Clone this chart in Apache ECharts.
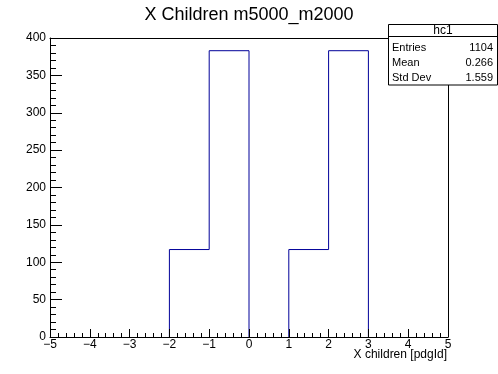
<!DOCTYPE html>
<html>
<head>
<meta charset="utf-8">
<script src="https://cdn.jsdelivr.net/npm/echarts@6/dist/echarts.min.js"></script>
<style>html,body{margin:0;padding:0;background:#fff;}#c{width:498px;height:374px;}</style>
</head>
<body>
<div id="c"></div>
<script>
// ---- data ----
var chartTitle = 'X Children m5000_m2000';
var xAxisTitle = 'X children [pdgId]';
var binLowEdges = [-5, -4, -3, -2, -1, 0, 1, 2, 3, 4];
var binWidth = 1;
var binCounts = [0, 0, 0, 117, 383, 0, 117, 383, 0, 0];
var statsName = 'hc1';
var statsLabels = ['Entries', 'Mean', 'Std Dev'];
var statsValues = ['1104', '0.266', '1.559'];
var xTicks = [-5, 5, 1];
var yTicks = [0, 400, 50];

// ---- build histogram outline (runs of non-empty bins; the zero baseline is the axis) ----
var pts = [];
var inRun = false;
for (var i = 0; i < binLowEdges.length; i++) {
  var c = binCounts[i];
  if (c > 0) {
    if (!inRun) { pts.push([binLowEdges[i], 0]); inRun = true; }
    pts.push([binLowEdges[i], c]);
    pts.push([binLowEdges[i] + binWidth, c]);
  } else if (inRun) {
    pts.push([binLowEdges[i], 0]);
    pts.push(null);
    inRun = false;
  }
}
if (inRun) pts.push([binLowEdges[binLowEdges.length - 1] + binWidth, 0]);

var font = 'Liberation Sans, Arial, Helvetica, sans-serif';
var chart = echarts.init(document.getElementById('c'), null, {renderer: 'canvas'});
function fmt(v) { return v < 0 ? '\u2212' + Math.abs(v) : String(v); }

var graphics = [
  {type: 'text', right: 51, top: 349, style: {text: xAxisTitle, font: '12px ' + font, fill: '#000', textAlign: 'right'}},
  {type: 'rect', shape: {x: 388.5, y: 24.5, width: 109, height: 60.5}, style: {fill: '#fff', stroke: '#000', lineWidth: 1}, z: 100},
  {type: 'line', shape: {x1: 388.5, y1: 36.5, x2: 497.5, y2: 36.5}, style: {stroke: '#000', lineWidth: 1}, z: 101},
  {type: 'text', x: 443, y: 30.5, style: {text: statsName, font: '12px ' + font, fill: '#000', textAlign: 'center', textVerticalAlign: 'middle'}, z: 101}
];
for (var k = 0; k < statsLabels.length; k++) {
  graphics.push({type: 'text', x: 392, y: 47.5 + k * 15, style: {text: statsLabels[k], font: '11px ' + font, fill: '#000', textAlign: 'left', textVerticalAlign: 'middle'}, z: 101});
  graphics.push({type: 'text', x: 493, y: 47.5 + k * 15, style: {text: statsValues[k], font: '11px ' + font, fill: '#000', textAlign: 'right', textVerticalAlign: 'middle'}, z: 101});
}

var frameAxis = {
  axisLine: {show: true, onZero: false, lineStyle: {color: '#000', width: 1}},
  axisTick: {show: false}, minorTick: {show: false}, splitLine: {show: false}, axisLabel: {show: false}
};

chart.setOption({
  animation: false,
  backgroundColor: '#fff',
  title: {
    text: chartTitle, left: 'center', top: 1,
    textStyle: {fontFamily: font, fontSize: 18, fontWeight: 'normal', color: '#000'}
  },
  grid: {left: 50, right: 50, top: 38, bottom: 37, show: false},
  xAxis: [{
    type: 'value', position: 'bottom', min: xTicks[0], max: xTicks[1], interval: xTicks[2], zlevel: 1,
    axisLine: {show: true, onZero: false, lineStyle: {color: '#000', width: 1}},
    axisTick: {show: true, inside: true, length: 8, lineStyle: {color: '#000'}},
    minorTick: {show: true, splitNumber: 5, length: 4, lineStyle: {color: '#000'}},
    splitLine: {show: false},
    axisLabel: {margin: 2, color: '#000', fontFamily: font, fontSize: 12, formatter: fmt}
  }, Object.assign({type: 'value', position: 'top', min: xTicks[0], max: xTicks[1]}, frameAxis)],
  yAxis: [{
    type: 'value', position: 'left', min: yTicks[0], max: yTicks[1], interval: yTicks[2], zlevel: 1,
    axisLine: {show: true, onZero: false, lineStyle: {color: '#000', width: 1}},
    axisTick: {show: true, inside: true, length: 12, lineStyle: {color: '#000'}},
    minorTick: {show: true, splitNumber: 5, length: 6, lineStyle: {color: '#000'}},
    splitLine: {show: false},
    axisLabel: {margin: 4, color: '#000', fontFamily: font, fontSize: 12, formatter: fmt}
  }, Object.assign({type: 'value', position: 'right', min: yTicks[0], max: yTicks[1]}, frameAxis)],
  series: [{
    type: 'line', data: pts, showSymbol: false, symbol: 'none', z: 2, connectNulls: false,
    xAxisIndex: 0, yAxisIndex: 0,
    lineStyle: {color: '#000099', width: 1}
  }],
  graphic: graphics
});
</script>
</body>
</html>
